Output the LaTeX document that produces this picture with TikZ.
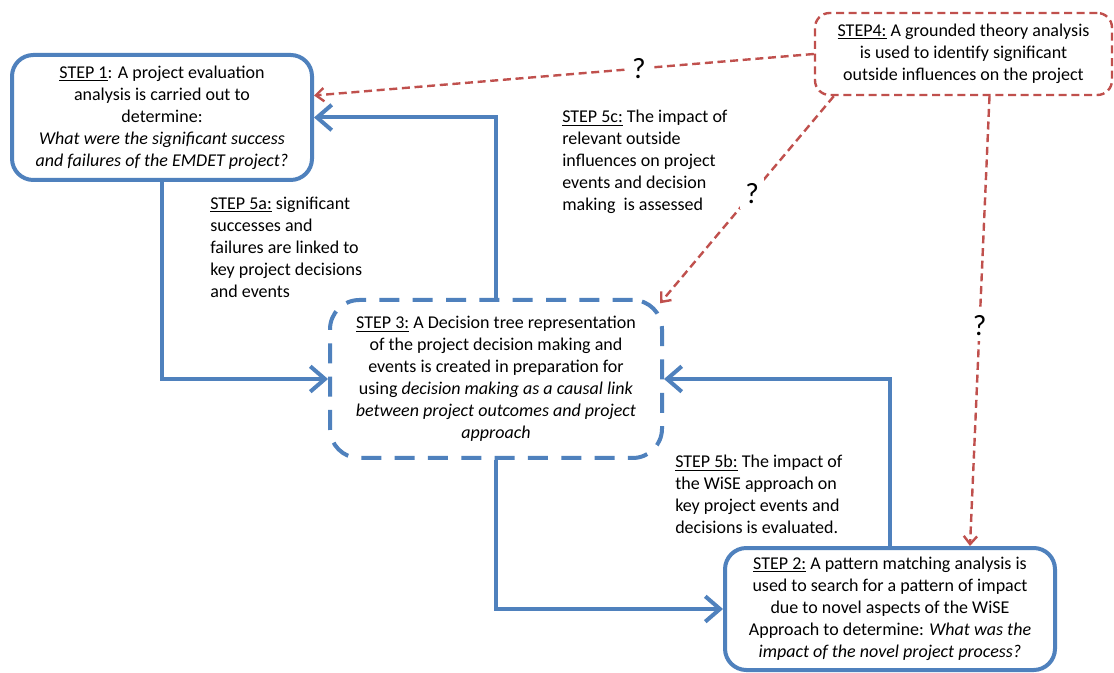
\documentclass[tikz,border=0pt]{standalone}
\usepackage{fontspec}
\setmainfont{Carlito}
\usetikzlibrary{arrows.meta,positioning}
\definecolor{stepblue}{HTML}{4F81BD}
\definecolor{stepred}{HTML}{C0504D}
\begin{document}
\begin{tikzpicture}[x=0.75pt,y=-0.75pt,
  every node/.style={font=\fontsize{13.5pt}{16.5pt}\selectfont},
  box/.style={draw=stepblue,line width=3pt,rounded corners=16pt,align=center,fill=white,inner sep=2pt},
  dashbox/.style={box,rounded corners=22pt,dash pattern=on 15pt off 10pt},
  redbox/.style={draw=stepred,line width=1.8pt,rounded corners=11pt,align=center,dash pattern=on 6pt off 3.5pt,inner sep=2pt},
  flow/.style={draw=stepblue,line width=3pt,-{Straight Barb[length=11pt,width=19pt]}},
  link/.style={draw=stepred,line width=1.8pt,dash pattern=on 6pt off 3.5pt,-{Straight Barb[length=6pt,width=10pt]}},
  qmark/.style={fill=white,inner sep=4pt,font=\fontsize{22pt}{24pt}\selectfont},
  note/.style={align=left,anchor=north west,inner sep=0pt}]
\useasboundingbox (0,0) rectangle (1114,673);
\fill[white] (0,0) rectangle (1114,673);

% the four analysis steps
\node[box,minimum width=225pt,minimum height=93.75pt] (s1) at (162,117.5)
  {\underline{STEP 1}: A project evaluation\\analysis is carried out to\\determine:\\
   \textit{What were the significant success}\\\textit{and failures of the EMDET project?}};
\node[redbox,minimum width=222.75pt,minimum height=61.5pt] (s4) at (963.5,54)
  {\underline{STEP4:} A grounded theory analysis\\is used to identify significant\\outside influences on the project};
\node[dashbox,minimum width=249pt,minimum height=118.5pt] (s3) at (496,379)
  {\underline{STEP 3:} A Decision tree representation\\of the project decision making and\\events is created in preparation for\\
   using \textit{decision making as a causal link}\\\textit{between project outcomes and project}\\\textit{approach}};
\node[box,minimum width=247.5pt,minimum height=91.5pt] (s2) at (890,609)
  {\underline{STEP 2:} A pattern matching analysis is\\used to search for a pattern of impact\\due to novel aspects of the WiSE\\
   Approach to determine: \textit{What was the}\\\textit{impact of the novel project process?}};

% main loop between the steps
\draw[flow] (s1.south) |- (s3.west);
\draw[flow] (s3.north) |- (s1.east);
\draw[flow] (s3.south) |- (s2.west);
\draw[flow] (s2.north) |- (s3.east);

% outside influences
\draw[link] (s4.west) -- node[qmark,pos=0.35] (q1) {?} ([yshift=16.5pt]s1.east);
\draw[link] ([xshift=15pt]s4.south west) -- node[qmark,pos=0.47] (q2) {?} ([xshift=-3pt,yshift=-4pt]s3.north east);
\draw[link] ([xshift=19.5pt]s4.south) -- node[qmark,pos=0.51] (q3) {?} ([xshift=60pt]s2.north);

% link descriptions
\node[note] (n5a) at (210,197) {\underline{STEP 5a:} significant\\successes and\\failures are linked to\\key project decisions\\and events};
\node[note] (n5c) at (562,110) {\underline{STEP 5c:} The impact of\\relevant outside\\influences on project\\events and decision\\making\ \ is assessed};
\node[note] (n5b) at (675,455) {\underline{STEP 5b:} The impact of\\the WiSE approach on\\key project events and\\decisions is evaluated.};
\end{tikzpicture}
\end{document}
